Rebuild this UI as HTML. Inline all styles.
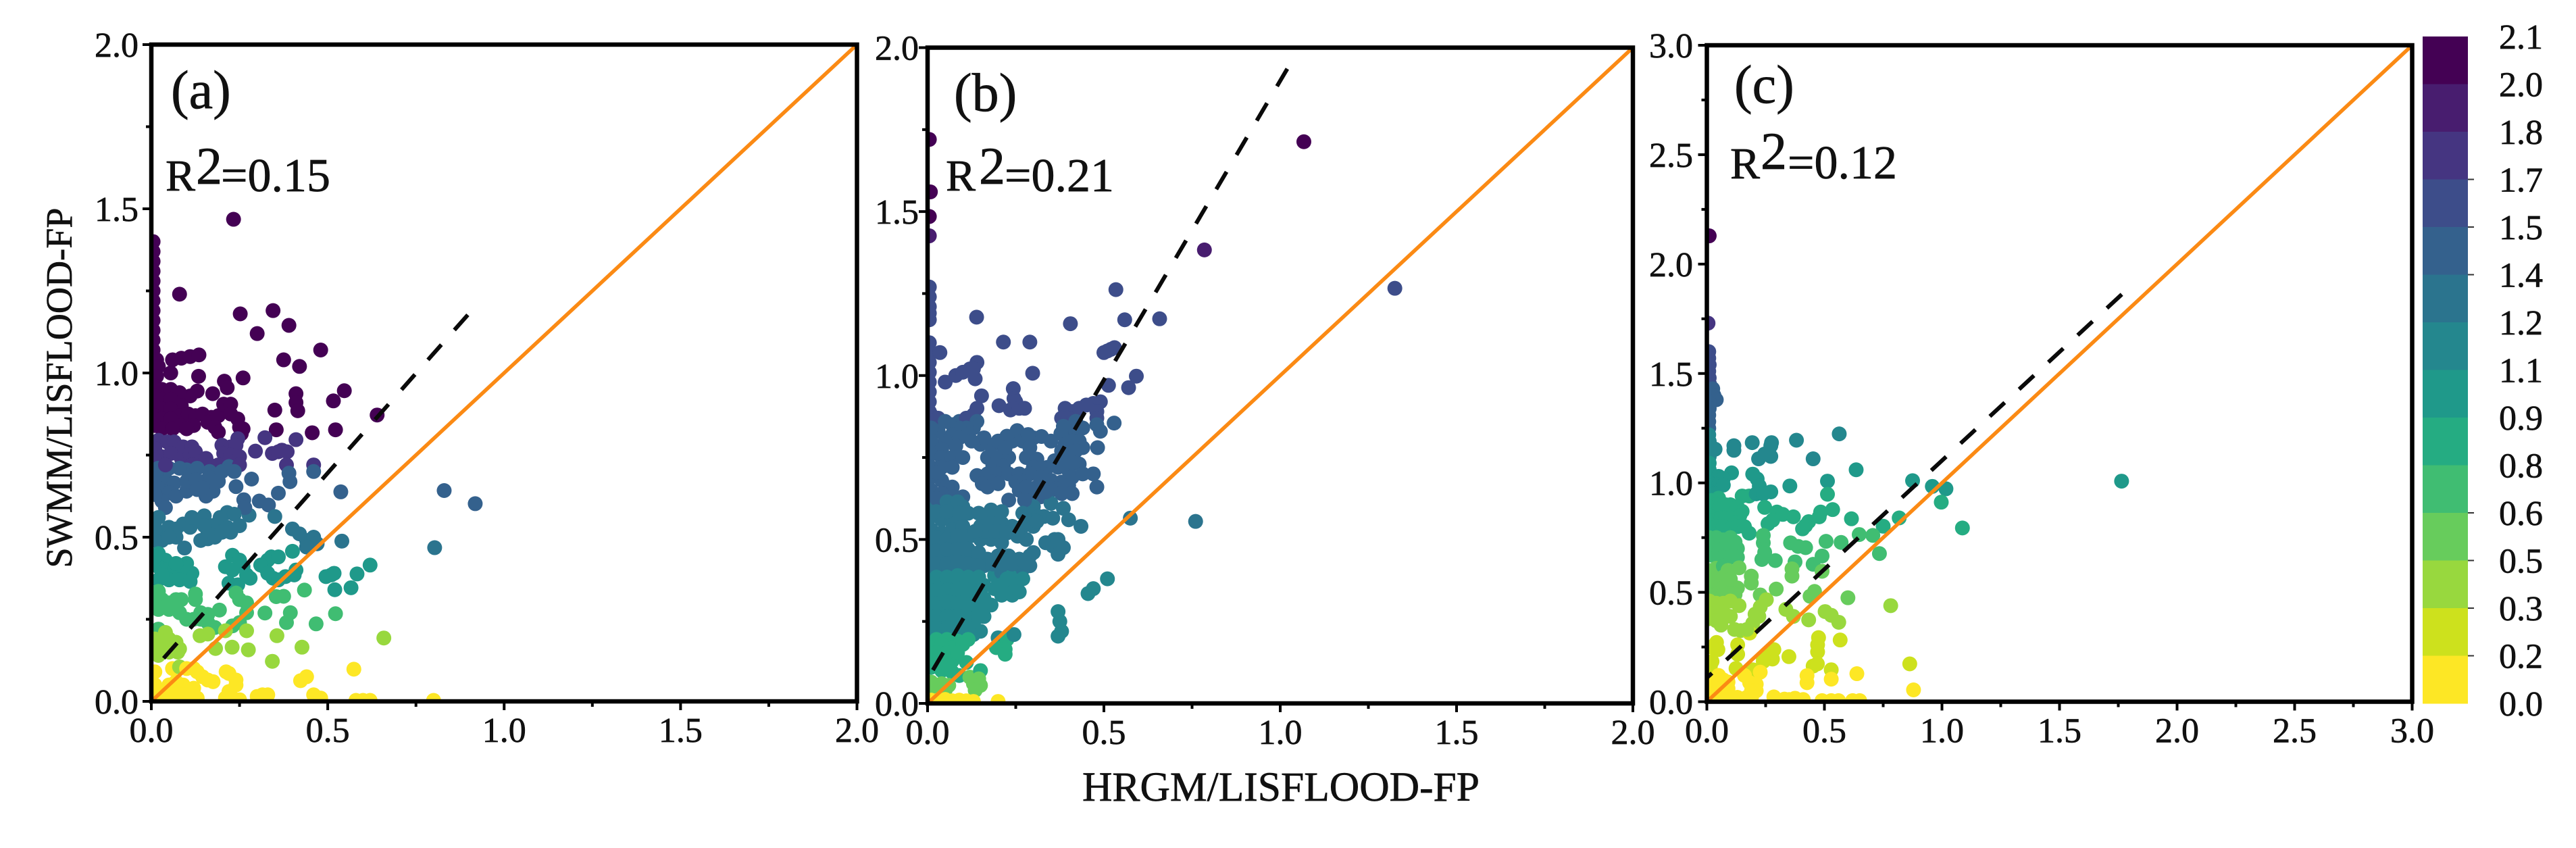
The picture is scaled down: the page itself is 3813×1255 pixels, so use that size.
<!DOCTYPE html>
<html lang="en">
<head>
<meta charset="utf-8">
<title>SWMM and HRGM against LISFLOOD-FP</title>
<style>
html,body{margin:0;padding:0;background:#fff}
svg{display:block}
text{font-family:"Liberation Serif",serif;fill:#111;stroke:#111;stroke-width:0.7}
</style>
</head>
<body>
<svg id="fig" xmlns="http://www.w3.org/2000/svg" width="3813" height="1255" viewBox="0 0 3813 1255">
<rect width="3813" height="1255" fill="#fff"/>
<text transform="translate(106,574) rotate(-90)" text-anchor="middle" font-size="55" textLength="533" lengthAdjust="spacingAndGlyphs">SWMM/LISFLOOD-FP</text>
<text x="1896" y="1185" text-anchor="middle" font-size="61" textLength="588" lengthAdjust="spacingAndGlyphs">HRGM/LISFLOOD-FP</text>
<text x="253" y="160" font-size="80">(a)</text>
<text x="1412" y="164" font-size="80">(b)</text>
<text x="2567" y="152" font-size="80">(c)</text>
<text font-size="66"><tspan x="245" y="282">R</tspan><tspan x="290" y="272" font-size="78">2</tspan><tspan x="327" y="283" font-size="70">=0.15</tspan></text>
<text font-size="66"><tspan x="1400" y="282">R</tspan><tspan x="1449" y="272" font-size="78">2</tspan><tspan x="1487" y="283" font-size="70">=0.21</tspan></text>
<text font-size="66"><tspan x="2561" y="264">R</tspan><tspan x="2606" y="250" font-size="78">2</tspan><tspan x="2646" y="264" font-size="70">=0.12</tspan></text>
</svg>
<script>
// Flat lists of x, y readings for each panel (x0, y0, x1, y1, ...)
const panelAPoints = [
.233,1.468,.08,1.24,.252,1.18,.345,1.19,.39,1.145,.30,1.12,.48,1.07,.375,1.04,.42,1.02,
.005,1.40,.005,1.37,.005,1.34,.005,1.31,.005,1.28,.005,1.25,.005,1.22,.005,1.19,.005,1.16,.005,1.13,.005,1.10,.005,1.07,.015,1.04,.02,1.02,
.06,1.04,.085,1.045,.11,1.05,.135,1.055,.015,.99,.055,1.0,.134,.99,.26,.985,.207,.975,.215,.955,.174,.937,.13,.945,.11,.93,.09,.925,
.01,.96,.03,.95,.055,.95,.08,.94,.01,.93,.03,.92,.055,.92,.085,.90,.01,.90,.03,.89,.055,.89,.08,.87,.01,.87,.03,.86,.055,.86,.105,.875,.01,.84,.03,.83,.06,.83,.085,.84,
.125,.87,.145,.875,.17,.865,.19,.87,.205,.905,.225,.905,.225,.875,.245,.86,.16,.85,.18,.835,.19,.82,.25,.835,.255,.815,.26,.83,.245,.80,.12,.84,.10,.83,
.35,.887,.41,.937,.41,.91,.415,.885,.516,.915,.547,.946,.64,.872,.354,.827,.456,.818,.522,.827,
.322,.803,.41,.797,.295,.762,.343,.755,.36,.76,.37,.765,.385,.76,.46,.72,.46,.70,.383,.72,.39,.695,
.20,.78,.225,.775,.24,.78,.205,.755,.225,.75,.25,.745,
.02,.795,.045,.79,.065,.79,.09,.775,.115,.775,.01,.77,.03,.745,.055,.755,.085,.74,.11,.75,.125,.76,.01,.735,.115,.72,.14,.73,.155,.74,.165,.72,.10,.705,.08,.71,.05,.71,.02,.71,.04,.72,.19,.72,.22,.715,.25,.72,.165,.70,.13,.71,
.02,.68,.045,.67,.065,.665,.02,.65,.05,.635,.03,.61,.04,.59,.01,.63,.07,.625,.10,.64,.10,.67,.125,.675,.15,.67,.13,.645,.16,.65,.17,.68,.155,.625,.175,.64,.20,.70,.235,.70,.284,.677,.24,.654,.393,.669,.36,.634,.537,.638,.83,.642,.918,.602,.262,.614,.306,.61,.332,.598,.277,.567,.35,.563,.265,.59,.145,.65,.19,.67,
.02,.56,.01,.53,.03,.51,.05,.53,.07,.525,.09,.54,.11,.53,.13,.55,.15,.565,.17,.535,.19,.545,.215,.575,.235,.57,.195,.56,.16,.51,.15,.535,.14,.49,.16,.495,.18,.50,.20,.515,.215,.53,.225,.515,.25,.535,.40,.525,.42,.51,.44,.49,.46,.50,.47,.48,.44,.47,.54,.488,.803,.468,.094,.467,.03,.49,.07,.50,.01,.49,.05,.50,.115,.56,
.02,.45,.04,.43,.02,.41,.04,.40,.065,.40,.085,.395,.10,.38,.115,.39,.10,.42,.09,.41,.02,.37,.05,.37,.08,.37,.11,.365,.07,.42,.03,.385,.01,.44,
.23,.445,.25,.43,.21,.41,.26,.41,.23,.40,.27,.385,.22,.36,.245,.355,.28,.375,.33,.43,.32,.41,.34,.44,.36,.44,.40,.457,.31,.415,.33,.39,.345,.375,.36,.37,.38,.38,.405,.385,.41,.40,.51,.385,.495,.38,.518,.39,.583,.388,.62,.415,.566,.346,
.434,.339,.52,.34,.354,.319,.375,.32,.125,.327,.125,.31,.02,.335,.01,.31,.03,.31,.05,.30,.07,.31,.085,.31,.02,.28,.05,.28,.08,.27,.10,.25,.12,.25,.14,.25,.16,.24,.18,.225,.14,.27,.16,.265,.193,.278,.24,.33,.25,.31,.27,.30,.27,.27,.25,.24,.23,.23,.322,.269,.394,.27,.383,.24,.467,.236,.522,.267,
.02,.22,.04,.21,.01,.19,.03,.18,.05,.19,.07,.18,.02,.16,.05,.15,.02,.14,.075,.15,.08,.16,.138,.20,.16,.205,.27,.215,.356,.20,.182,.161,.229,.165,.275,.157,.427,.165,.343,.122,.659,.193,.21,.215,
.06,.10,.08,.105,.10,.10,.12,.10,.13,.09,.145,.075,.175,.06,.16,.065,.212,.09,.22,.085,.24,.065,.24,.05,.22,.03,.21,.01,.23,.01,.25,.005,.09,.05,.07,.06,.05,.05,.01,.09,.01,.05,.01,.03,.03,.02,.06,.02,.09,.02,.12,.04,.13,.01,.10,.01,.30,.015,.315,.02,.33,.02,.423,.063,.44,.075,.574,.098,.46,.02,.48,.01,.58,.003,.60,.003,.62,.003,.80,.003
];
const panelBPoints = [
.005,1.72,.008,1.56,.005,1.485,.005,1.426,.005,1.27,.005,1.24,.005,1.21,.005,1.19,.005,1.17,.005,1.10,.005,1.07,.005,1.04,.005,1.01,.005,.98,.005,.95,.005,.92,.005,.89,
1.067,1.713,.785,1.383,1.325,1.266,.534,1.262,.559,1.17,.658,1.173,.405,1.158,.139,1.178,.215,1.102,.29,1.102,.035,1.07,.50,1.07,.52,1.08,.53,1.085,.51,1.075,.298,1.007,.592,.998,.57,.963,.513,.97,
.05,.98,.08,1.0,.10,1.01,.12,1.02,.14,1.04,.135,.99,.13,1.02,.153,.938,.2025,.908,.243,.96,.245,.93,.25,.92,.235,.895,.26,.90,.275,.90,
.01,.88,.03,.87,.05,.86,.07,.85,.09,.86,.11,.87,.13,.88,.14,.90,.14,.86,.13,.84,.11,.84,.09,.84,.07,.82,.05,.80,.03,.83,.01,.84,.09,.81,.115,.82,
.39,.90,.41,.89,.43,.90,.45,.91,.47,.915,.49,.92,.38,.87,.40,.87,.42,.86,.48,.89,.48,.87,.48,.85,.49,.83,.40,.83,.529,.855,.482,.78,.44,.84,.385,.845,.42,.83,
.01,.80,.04,.775,.08,.785,.15,.79,.18,.785,.21,.79,.24,.80,.254,.832,.27,.80,.30,.81,.323,.814,.378,.823,.39,.79,.41,.80,.43,.80,.44,.78,.38,.77,.36,.74,.40,.76,.16,.81,.20,.80,.125,.80,.225,.815,.285,.82,.35,.80,.42,.77,
.01,.76,.04,.75,.07,.75,.10,.75,.01,.72,.04,.72,.07,.72,.17,.75,.20,.75,.23,.75,.22,.78,.28,.75,.31,.745,.34,.72,.29,.78,.37,.72,.40,.71,.43,.73,.33,.70,.185,.725,.215,.725,.30,.72,.38,.745,.41,.735,
.01,.69,.04,.68,.07,.66,.14,.695,.17,.70,.20,.70,.23,.70,.26,.70,.29,.70,.32,.69,.35,.68,.38,.675,.41,.69,.47,.70,.44,.70,.48,.66,.025,.705,.055,.66,.155,.67,.19,.675,.25,.675,.275,.675,.31,.66,.365,.655,.40,.665,
.01,.65,.04,.64,.07,.63,.10,.63,.01,.61,.04,.60,.07,.60,.10,.60,.17,.66,.20,.67,.23,.62,.26,.65,.29,.63,.32,.63,.35,.65,.38,.64,.41,.64,.30,.60,.35,.61,.385,.595,.28,.66,.025,.625,.055,.615,.085,.615,.275,.62,.305,.65,.335,.645,
.01,.57,.04,.56,.07,.565,.115,.58,.145,.58,.18,.59,.21,.585,.27,.58,.30,.575,.33,.57,.355,.565,.025,.585,.055,.585,.09,.58,.16,.57,.195,.57,.285,.56,.315,.57,
.01,.53,.04,.52,.07,.53,.10,.54,.15,.54,.18,.55,.21,.55,.24,.54,.27,.54,.30,.54,.31,.555,.12,.51,.15,.50,.18,.50,.21,.49,.01,.49,.04,.48,.07,.49,.095,.49,.335,.49,.36,.50,.355,.48,.28,.50,.255,.51,.025,.505,.055,.50,.085,.51,.165,.525,.195,.525,.225,.52,.255,.53,.135,.525,
.01,.45,.04,.44,.07,.45,.10,.45,.13,.44,.17,.44,.20,.45,.23,.45,.26,.44,.29,.45,.30,.46,.25,.41,.01,.41,.04,.40,.07,.41,.10,.41,.13,.40,.16,.42,.19,.39,.21,.40,.24,.39,.27,.41,.29,.42,.40,.56,.435,.54,.37,.50,.385,.475,.37,.455,.575,.565,.76,.555,.025,.465,.055,.47,.085,.47,.115,.47,.145,.46,.025,.425,.055,.425,.085,.43,.115,.425,.145,.42,.185,.425,.215,.425,.24,.425,.275,.43,
.01,.37,.04,.36,.07,.37,.10,.36,.13,.36,.19,.35,.22,.36,.25,.36,.27,.38,.16,.36,.01,.33,.04,.32,.07,.33,.10,.33,.13,.32,.16,.32,.21,.33,.24,.33,.26,.34,.14,.335,.51,.38,.47,.35,.455,.335,.37,.28,.38,.22,.375,.25,.37,.205,.12,.31,.025,.385,.055,.385,.085,.39,.115,.385,.145,.385,.025,.345,.055,.345,.085,.35,.115,.345,.225,.38,.205,.36,
.01,.29,.04,.28,.07,.29,.10,.28,.13,.28,.16,.29,.18,.30,.16,.265,.01,.25,.04,.24,.07,.25,.10,.24,.13,.24,.025,.305,.055,.31,.085,.305,.115,.30,.145,.30,.025,.265,.055,.265,.085,.265,.115,.26,.145,.265,
.01,.215,.04,.21,.07,.215,.10,.21,.13,.21,.15,.22,.025,.23,.055,.23,.085,.23,.115,.23,.025,.195,.055,.195,.085,.19,.115,.195,
.01,.17,.04,.18,.07,.17,.10,.18,.01,.14,.04,.14,.07,.13,.20,.20,.195,.17,.225,.195,.22,.165,.22,.15,.245,.21,.025,.155,.055,.155,.085,.155,
.01,.11,.04,.10,.07,.095,.11,.125,.09,.085,.12,.08,.15,.10,.145,.075,.025,.12,.055,.12,
.01,.065,.04,.06,.06,.055,.13,.06,.15,.055,.02,.038,.05,.04,.135,.04,
.01,.01,.03,.01,.05,.012,.07,.008,.09,.01,.11,.008,.13,.006,.20,.006
];
const panelCPoints = [
.01,2.129,.005,1.73,.008,1.60,.008,1.57,.01,1.54,.008,1.51,.01,1.48,.012,1.45,.025,1.43,.03,1.40,.02,1.40,.04,1.38,.01,1.37,.01,1.34,.008,1.31,.008,1.28,.008,1.25,.008,1.22,.01,1.19,.015,1.17,.035,1.154,.01,1.12,.01,1.09,.01,1.06,
.115,1.17,.115,1.149,.193,1.184,.275,1.184,.272,1.17,.381,1.195,.563,1.224,.452,1.11,.635,1.06,.513,1.008,.513,.948,.353,.986,.272,1.121,.22,1.11,.246,1.132,
.105,1.046,.195,1.04,.214,1.018,.223,.986,.272,.959,.01,1.03,.03,1.02,.05,1.03,.07,1.02,.01,1.0,.03,.99,.05,.99,.07,.99,.01,.96,.03,.95,.05,.93,.02,.92,.04,.90,
.15,.94,.18,.94,.21,.95,.24,.95,.01,.89,.03,.87,.05,.88,.08,.90,.10,.90,.13,.89,.15,.87,.14,.85,.01,.85,.03,.83,.06,.84,.08,.84,.10,.84,.12,.82,.01,.81,.04,.80,.07,.80,.10,.79,.13,.80,.16,.80,.18,.77,
.246,.888,.26,.813,.298,.867,.323,.856,.368,.845,.433,.823,.407,.79,.484,.867,.478,.845,.535,.878,.615,.836,.818,.84,.75,.802,.648,.764,.706,.76,.875,1.01,.959,.984,1.017,.973,.997,.912,1.087,.794,1.764,1.008,.28,.83,.42,.805,
.01,.75,.04,.75,.07,.74,.10,.75,.12,.73,.01,.71,.04,.70,.07,.70,.10,.70,.13,.70,.01,.67,.04,.66,.07,.66,.10,.66,.13,.66,.24,.726,.246,.683,.234,.65,.291,.645,.356,.726,.388,.71,.42,.704,.507,.733,.571,.728,.734,.677,.49,.666,.375,.639,.362,.607,.452,.628,.49,.596,.24,.76,
.01,.60,.04,.61,.07,.62,.09,.60,.01,.57,.04,.56,.07,.57,.01,.53,.04,.52,.07,.52,.10,.51,.13,.52,.137,.612,.189,.574,.189,.542,.227,.488,.253,.466,.295,.515,.362,.574,.439,.482,.458,.504,.60,.475,.01,.49,.04,.49,.07,.49,.10,.56,.12,.49,
.01,.46,.04,.45,.07,.45,.10,.46,.01,.42,.04,.41,.07,.41,.10,.39,.01,.38,.04,.37,.06,.35,.137,.439,.227,.433,.221,.39,.195,.358,.144,.325,.118,.33,.182,.314,.336,.422,.368,.39,.433,.374,.503,.412,.529,.395,.561,.363,.782,.439,.17,.33,.205,.40,
.041,.271,.047,.238,.022,.184,.015,.163,.131,.26,.131,.217,.285,.238,.279,.195,.24,.184,.349,.206,.475,.293,.471,.26,.471,.228,.567,.282,.452,.163,.47,.173,.529,.146,.863,.173,.124,.152,.195,.146,.26,.22,.02,.25,.24,.20,
.02,.10,.05,.12,.07,.10,.09,.09,.01,.06,.04,.06,.07,.06,.09,.06,.01,.02,.04,.02,.07,.02,.10,.02,.13,.02,.227,.135,.182,.087,.21,.08,.19,.05,.21,.05,.17,.02,.19,.02,.285,.022,.375,.016,.33,.012,.41,.01,.35,.01,.529,.005,.49,.005,.56,.005,.62,.005,.65,.005,.426,.087,.426,.119,.529,.103,.638,.128,.879,.054,.16,.12
];

// Axis limits, ticks and fitted dashed lines
const panelNames = ['a', 'b', 'c'];
const axisMaximums = [2, 2, 3];
const fitSlopes = [1.213, 1.825, 0.993];
const fitIntercepts = [0.089, 0.074, 0.109];
const fitEnds = [0.897, 1.02, 1.765];
const tickStep = 0.5;

// Colourbar levels, top to bottom
const colorbarLabels = ['2.1', '2.0', '1.8', '1.7', '1.5', '1.4', '1.2', '1.1', '0.9', '0.8', '0.6', '0.5', '0.3', '0.2', '0.0'];
const colorbarTicks = ['1.7', '1.5', '1.4', '0.6', '0.5', '0.3', '0.2'];
const viridisLevels = ['#440154', '#481d6f', '#453581', '#3d4d8a', '#34618d', '#2b748e', '#24878e', '#1f998a', '#25ac82', '#40bd72', '#67cc5c', '#98d83e', '#cde11d', '#fde725'];

// Which colour level a point takes from its y value
const panelAEdges = [.105, .22, .34, .46, .58, .72, .81, 99];
const panelALevels = [13, 11, 9, 7, 5, 4, 2, 0];
const panelBEdges = [.025, .085, .2, .4, .62, .87, 1.35, 1.45, 99];
const panelBLevels = [13, 10, 8, 6, 5, 4, 3, 1, 0];
const panelCEdges = [.14, .32, .47, .62, .77, .95, 1.1, 1.25, 1.45, 1.65, 1.9, 99];
const panelCLevels = [13, 12, 11, 10, 9, 8, 7, 6, 4, 3, 2, 0];

const svg = document.getElementById('fig');
const NS = 'http://www.w3.org/2000/svg';
const frames = [
  {l: 224, r: 1268.5, t: 66, b: 1038, labelR: 205},
  {l: 1373, r: 2417, t: 70.5, b: 1041, labelR: 1360},
  {l: 2526.5, r: 3570.5, t: 67, b: 1038.5, labelR: 2506}
];
const pointSets = [panelAPoints, panelBPoints, panelCPoints];
const edgeSets = [panelAEdges, panelBEdges, panelCEdges];
const levelSets = [panelALevels, panelBLevels, panelCLevels];

function make(tag, attrs, parent) {
  const el = document.createElementNS(NS, tag);
  for (const k in attrs) el.setAttribute(k, attrs[k]);
  parent.appendChild(el);
  return el;
}
function colorFor(p, y) {
  const edges = edgeSets[p];
  for (let i = 0; i < edges.length; i++) {
    if (y < edges[i]) return viridisLevels[levelSets[p][i]];
  }
  return viridisLevels[0];
}

const defs = make('defs', {}, svg);

panelNames.forEach(function (name, p) {
  const f = frames[p];
  const max = axisMaximums[p];
  const xs = function (v) { return f.l + v / max * (f.r - f.l); };
  const ys = function (v) { return f.b - v / max * (f.b - f.t); };

  const clip = make('clipPath', {id: 'clip-' + name}, defs);
  make('rect', {x: f.l, y: f.t, width: f.r - f.l, height: f.b - f.t}, clip);

  const group = make('g', {}, svg);
  
  

  const dots = make('g', {'clip-path': 'url(#clip-' + name + ')'}, group);
  
  
  const pts = pointSets[p];
  for (let i = 0; i + 1 < pts.length; i += 2) {
    const c = make('circle', {cx: xs(pts[i]), cy: ys(pts[i + 1]), r: 11, fill: colorFor(p, pts[i + 1])}, dots);
    
    
  }

  const fit = make('line', {
    x1: xs(fitEnds[p]), y1: ys(fitIntercepts[p] + fitSlopes[p] * fitEnds[p]),
    x2: xs(0), y2: ys(fitIntercepts[p]),
    stroke: '#0a0a0a', 'stroke-width': 6, 'stroke-dasharray': '30 29'
  }, group);
  
  

  const identity = make('line', {
    x1: xs(0), y1: ys(0), x2: xs(max), y2: ys(max),
    stroke: '#fb8a14', 'stroke-width': 5.5
  }, group);
  
  

  const frame = make('rect', {
    x: f.l, y: f.t, width: f.r - f.l, height: f.b - f.t,
    fill: 'none', stroke: '#000', 'stroke-width': 6.5
  }, group);
  
  

  const tickCount = Math.round(max / (tickStep / 2));
  for (let i = 0; i <= tickCount; i++) {
    const v = i * tickStep / 2;
    const major = i % 2 === 0;
    const len = major ? 10 : 5;
    const tx = make('line', {x1: xs(v), x2: xs(v), y1: f.b, y2: f.b + len + 3, stroke: '#000', 'stroke-width': 4}, group);
    
    
    const ty = make('line', {y1: ys(v), y2: ys(v), x1: f.l, x2: f.l - len - 3, stroke: '#000', 'stroke-width': 4}, group);
    
    
    if (major) {
      const lx = make('text', {x: xs(v), y: f.b + 60, 'text-anchor': 'middle', 'font-size': 52}, group);
      lx.textContent = v.toFixed(1);
      
      
      const ly = make('text', {x: f.labelR, y: ys(v) + 18, 'text-anchor': 'end', 'font-size': 52}, group);
      ly.textContent = v.toFixed(1);
      
      
    }
  }
});

// Colourbar
const bar = {l: 3586, r: 3653, t: 54, b: 1041};
const barGroup = make('g', {}, svg);


const step = (bar.b - bar.t) / viridisLevels.length;
viridisLevels.forEach(function (col, i) {
  const band = make('rect', {x: bar.l, y: bar.t + i * step, width: bar.r - bar.l, height: step + 0.5, fill: col}, barGroup);
  
  
});
colorbarLabels.forEach(function (lab, i) {
  const y = bar.t + i * step;
  const t = make('text', {x: 3699, y: y + 18, 'font-size': 52}, barGroup);
  t.textContent = lab;
  
  
  if (colorbarTicks.indexOf(lab) >= 0) {
    const k = make('line', {x1: bar.r, x2: bar.r + 9, y1: y, y2: y, stroke: '#333', 'stroke-width': 2}, barGroup);
    
    
  }
});
</script>
</body>
</html>
